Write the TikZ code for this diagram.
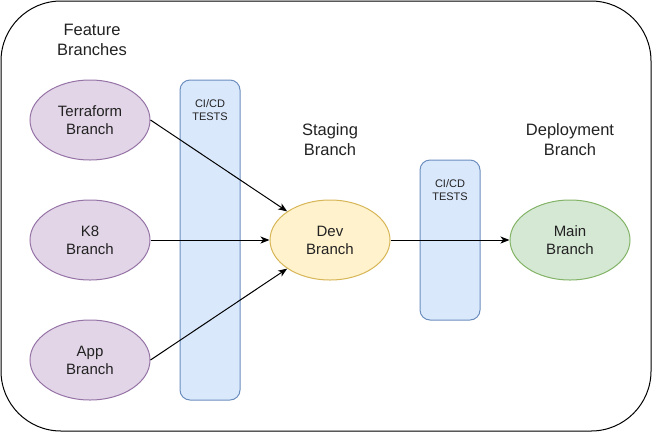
\documentclass[tikz,border=0pt]{standalone}
\usepackage{fontspec}
\setmainfont{Liberation Sans}
\usetikzlibrary{arrows.meta,shapes.geometric}
\definecolor{purpfill}{HTML}{E1D5E7}
\definecolor{purpline}{HTML}{9673A6}
\definecolor{yelfill}{HTML}{FFF2CC}
\definecolor{yelline}{HTML}{D6B656}
\definecolor{grnfill}{HTML}{D5E8D4}
\definecolor{grnline}{HTML}{82B366}
\definecolor{blufill}{HTML}{DAE8FC}
\definecolor{bluline}{HTML}{6C8EBF}
\definecolor{txt}{HTML}{222222}
\tikzset{
  branch/.style={ellipse,minimum width=120pt,minimum height=80pt,inner sep=0pt,line width=1pt,align=center,text=txt,font=\fontsize{15}{18}\selectfont},
  featb/.style={branch,fill=purpfill,draw=purpline},
  devb/.style={branch,fill=yelfill,draw=yelline},
  mainb/.style={branch,fill=grnfill,draw=grnline},
  cibox/.style={draw=bluline,fill=blufill,line width=1pt,rounded corners=10pt},
  citext/.style={align=center,text=txt,font=\fontsize{11}{13.5}\selectfont,inner sep=0pt},
  title/.style={align=center,text=txt,font=\fontsize{16.5}{20}\selectfont,inner sep=0pt},
  conn/.style={-{Stealth[length=9pt,width=7pt,inset=2.5pt]},line width=1pt,black},
}
\begin{document}
\begin{tikzpicture}[x=1pt,y=-1pt]
\useasboundingbox (0,0) rectangle (652,432);
\draw[line width=1pt,rounded corners=60pt] (1,1) rectangle (651,431);
% CI/CD boxes
\draw[cibox] (180,80) rectangle (240,400);
\node[citext] (ci1) at (210,110) {CI/CD\\TESTS};
\draw[cibox] (420,160) rectangle (480,320);
\node[citext] (ci2) at (450,190) {CI/CD\\TESTS};
% titles
\node[title] (ft) at (92,40) {Feature\\Branches};
\node[title] (st) at (330,140) {Staging\\Branch};
\node[title] (dt) at (570,140) {Deployment\\Branch};
% branches
\node[featb] (tf) at (90,120) {Terraform\\Branch};
\node[featb] (k8) at (90,240) {K8\\Branch};
\node[featb] (app) at (90,360) {App\\Branch};
\node[devb] (dev) at (330,240) {Dev\\Branch};
\node[mainb] (main) at (570,240) {Main\\Branch};
% connectors
\draw[conn] (tf.east) -- (dev);
\draw[conn] (k8.east) -- (dev.west);
\draw[conn] (app.east) -- (dev);
\draw[conn] (dev.east) -- (main.west);
\end{tikzpicture}
\end{document}
